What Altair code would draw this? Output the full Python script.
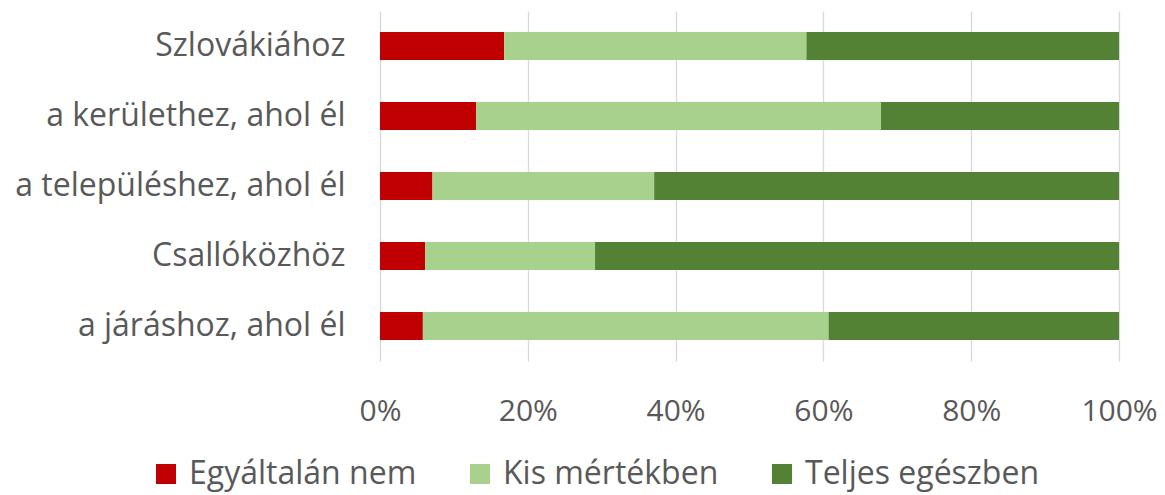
import altair as alt
import pandas as pd

categories = ["Szlovákiához", "a kerülethez, ahol él", "a településhez, ahol él",
              "Csallóközhöz", "a járáshoz, ahol él"]
series = ["Egyáltalán nem", "Kis mértékben", "Teljes egészben"]
egyaltalan = [16.8, 13.0, 7.1, 6.1, 5.8]
kis = [40.9, 54.8, 30.0, 23.0, 54.9]
teljes = [42.3, 32.2, 62.9, 70.9, 39.3]
colors = ["#C00000", "#A9D18E", "#548235"]

rows = []
for i, c in enumerate(categories):
    for j, (s, vals) in enumerate(zip(series, [egyaltalan, kis, teljes])):
        rows.append({"cat": c, "series": s, "value": vals[i], "order": j})
df = pd.DataFrame(rows)

FONT = "Open Sans"
TXT = "#595959"
FS = 32

chart = alt.Chart(df).mark_bar(size=28).encode(
    y=alt.Y("cat:N", sort=categories, title=None,
            scale=alt.Scale(paddingInner=0.6, paddingOuter=0.3),
            axis=alt.Axis(ticks=False, domain=False, labelFontSize=FS,
                          labelFont=FONT, labelColor=TXT, labelPadding=35,
                          labelLimit=400)),
    x=alt.X("sum(value):Q", stack="normalize", title=None,
            scale=alt.Scale(domain=[0, 1]),
            axis=alt.Axis(format="%", values=[0, 0.2, 0.4, 0.6, 0.8, 1.0],
                          ticks=False, domain=False, grid=True,
                          gridColor="#d9d9d9", gridWidth=1.3,
                          labelFlush=False,
                          labelFontSize=30, labelFont=FONT, labelColor=TXT,
                          labelPadding=35)),
    color=alt.Color("series:N", sort=series,
                    scale=alt.Scale(domain=series, range=colors),
                    legend=alt.Legend(orient="none", direction="horizontal",
                                      legendX=-230, legendY=447, title=None,
                                      symbolType="square", symbolSize=400,
                                      symbolStrokeWidth=0, labelFontSize=FS,
                                      labelFont=FONT, labelColor=TXT,
                                      labelLimit=400,
                                      columnPadding=47, labelOffset=7,
                                      symbolOpacity=1)),
    order=alt.Order("order:Q"),
).properties(
    width=739, height=350,
    autosize=alt.AutoSizeParams(type="none"),
    padding={"left": 372, "top": 3, "right": 38, "bottom": 132},
).configure_view(stroke=None)

chart.save("out.html", embed_options={"renderer": "svg", "actions": False})
